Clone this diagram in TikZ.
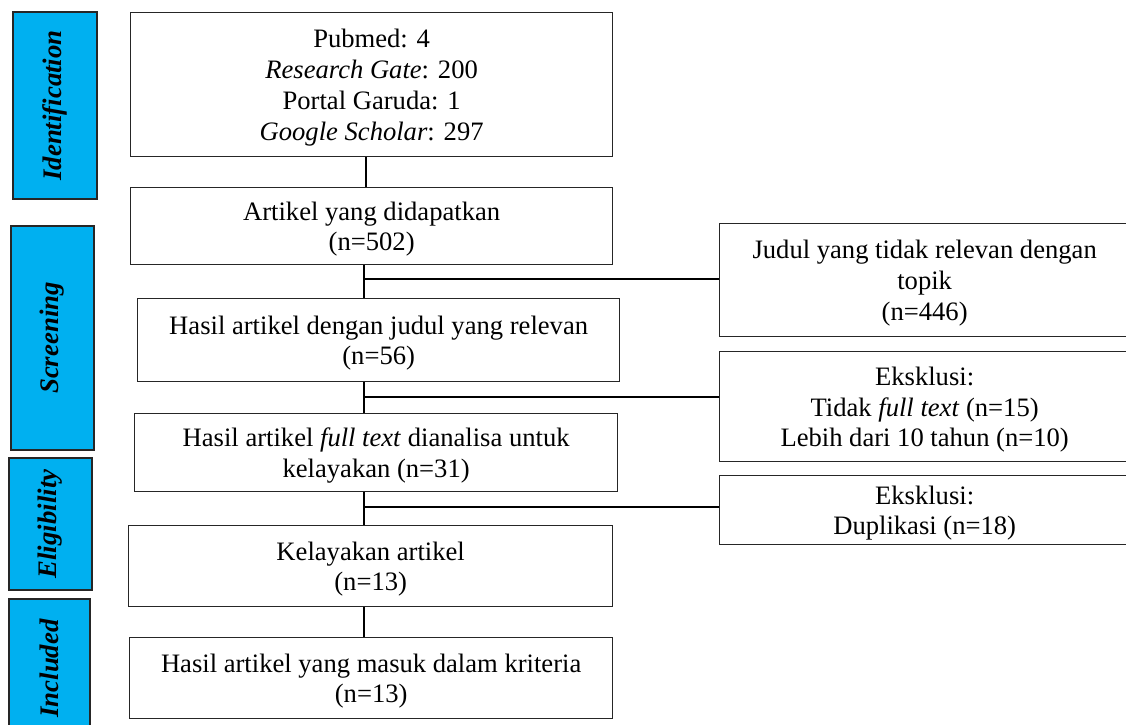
\documentclass[tikz,border=0pt]{standalone}
\usepackage{fontspec}
\setmainfont{Liberation Serif}
\definecolor{barblue}{RGB}{0,176,240}
\begin{document}
\begin{tikzpicture}[x=1pt,y=-1pt,
  txt/.style={font=\fontsize{26.6}{30.8}\selectfont, align=center, inner sep=0pt},
  box/.style={draw=black!85, line width=1.3pt, inner sep=0pt, anchor=north west},
  boxtext/.style={label={[txt, yshift=-3pt]center:{#1}}},
  bar/.style={draw=black!85, line width=1.3pt, fill=barblue, rotate=90, inner sep=0pt,
              font=\fontsize{26.8}{30.8}\selectfont\bfseries\itshape},
  conn/.style={line width=2pt}
]
\useasboundingbox (0,0) rectangle (1126,724);
\clip (0,0) rectangle (1126,724);

% phase bars
\node[bar, minimum width=187pt, minimum height=84pt] (id)  at (55,105.5) {Identification};
\node[bar, minimum width=224pt, minimum height=83pt] (scr) at (52.5,338) {Screening};
\node[bar, minimum width=132pt, minimum height=83pt] (eli) at (50.5,524) {Eligibility};
\node[bar, minimum width=139pt, minimum height=81pt] (inc) at (49.5,668.5) {Included};

% main column
\node[box, minimum width=482pt, minimum height=144pt,
  boxtext={Pubmed: 4\\\textit{Research Gate}: 200\\Portal Garuda: 1\\\textit{Google Scholar}: 297}]
  (b1) at (130,12) {};
\node[box, minimum width=482pt, minimum height=77pt,
  boxtext={Artikel yang didapatkan\\(n=502)}] (b2) at (130,187) {};
\node[box, minimum width=482pt, minimum height=83pt,
  boxtext={Hasil artikel dengan judul yang relevan\\(n=56)}] (b3) at (137,298) {};
\node[box, minimum width=483pt, minimum height=78pt,
  boxtext={Hasil artikel \textit{full text} dianalisa untuk\\kelayakan (n=31)}] (b4) at (134,413) {};
\node[box, minimum width=484pt, minimum height=81pt,
  boxtext={Kelayakan artikel\\(n=13)}] (b5) at (128,525) {};
\node[box, minimum width=483pt, minimum height=81pt,
  boxtext={Hasil artikel yang masuk dalam kriteria\\(n=13)}] (b6) at (129,637) {};

% exclusion column
\node[box, minimum width=410pt, minimum height=113pt,
  boxtext={Judul yang tidak relevan dengan\\topik\\(n=446)}] (r1) at (719,223) {};
\node[box, minimum width=410pt, minimum height=110pt,
  boxtext={Eksklusi:\\Tidak \textit{full text} (n=15)\\Lebih dari 10 tahun (n=10)}] (r2) at (719,351) {};
\node[box, minimum width=410pt, minimum height=69pt,
  boxtext={Eksklusi:\\Duplikasi (n=18)}] (r3) at (719,475) {};

% connector helpers
\coordinate (ca) at (366,0);
\coordinate (cb) at (364,0);
\coordinate (j1) at (364,279);
\coordinate (j2) at (364,397);
\coordinate (j3) at (364,507);

\draw[conn] (b1.south -| ca) -- (b2.north -| ca);
\draw[conn] (b2.south -| cb) -- (b3.north -| cb);
\draw[conn] (b3.south -| cb) -- (b4.north -| cb);
\draw[conn] (b4.south -| cb) -- (b5.north -| cb);
\draw[conn] (b5.south -| cb) -- (b6.north -| cb);
\draw[conn] (j1) -- (j1 -| r1.west);
\draw[conn] (j2) -- (j2 -| r2.west);
\draw[conn] (j3) -- (j3 -| r3.west);
\end{tikzpicture}
\end{document}
